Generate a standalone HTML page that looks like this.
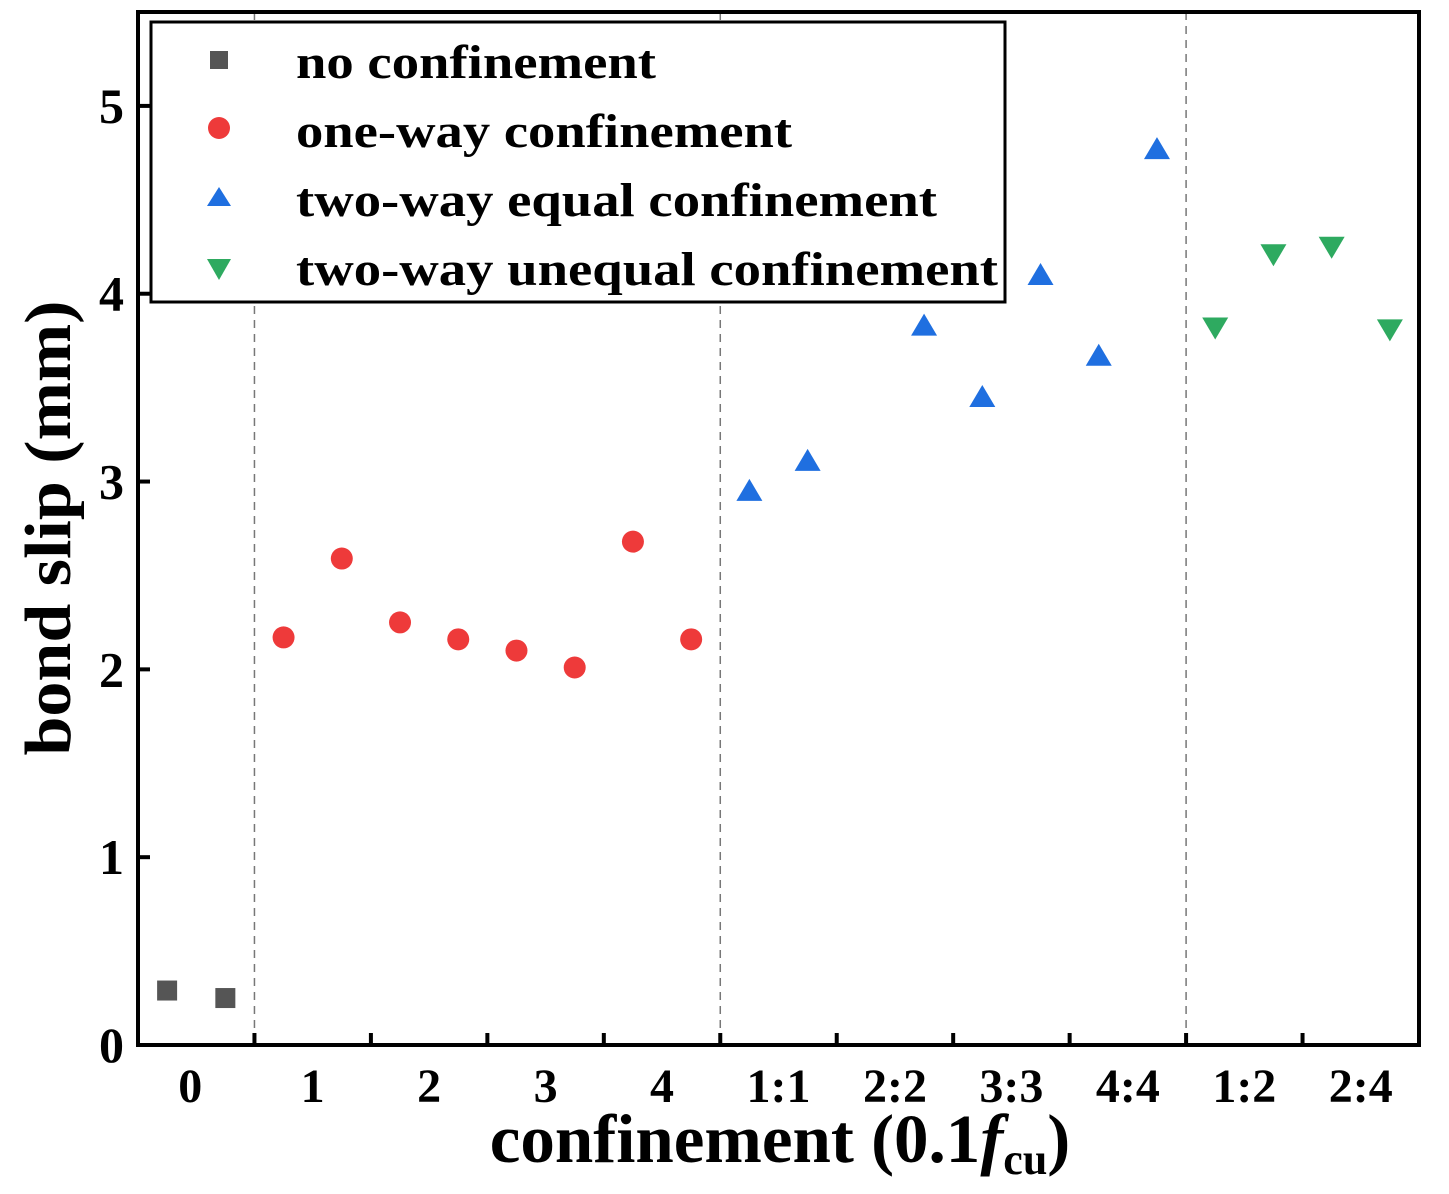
<!DOCTYPE html>
<html><head><meta charset="utf-8"><style>
html,body{margin:0;padding:0;background:#fff}
svg{display:block}
text{font-family:"Liberation Serif",serif;font-weight:bold;fill:#000}
</style></head><body>
<svg id="chart" width="1449" height="1194" viewBox="0 0 1449 1194" xmlns="http://www.w3.org/2000/svg">
<g id="grid"></g>
<g id="marks"></g>
<g id="axes"></g>
<g id="legend">
<rect x="151" y="22" width="854" height="280" fill="#fff" stroke="#000" stroke-width="3"/>
<rect x="210" y="51" width="18" height="18" fill="#555"/>
<text x="296" y="78" font-size="48" textLength="360" lengthAdjust="spacingAndGlyphs">no confinement</text>
<circle cx="219" cy="128" r="11" fill="#ee3a3a"/>
<text x="296" y="147" font-size="48" textLength="496" lengthAdjust="spacingAndGlyphs">one-way confinement</text>
<polygon points="219,187 207,206 231,206" fill="#1f6fe0"/>
<text x="296" y="216" font-size="48" textLength="641" lengthAdjust="spacingAndGlyphs">two-way equal confinement</text>
<polygon points="207,259 231,259 219,280" fill="#2eaa60"/>
<text x="296" y="285" font-size="48" textLength="702" lengthAdjust="spacingAndGlyphs">two-way unequal confinement</text>
</g>
<text transform="translate(70,528) rotate(-90)" text-anchor="middle" font-size="66" textLength="455" lengthAdjust="spacingAndGlyphs">bond slip (mm)</text>
<text x="780" y="1162" text-anchor="middle" font-size="69">confinement (0.1<tspan font-style="italic">f</tspan><tspan font-size="44" dy="12">cu</tspan><tspan dy="-12">)</tspan></text>
</svg>
<script>
const groupLabels = ["0","1","2","3","4","1:1","2:2","3:3","4:4","1:2","2:4"];
const yTicks = [0,1,2,3,4,5];
const noSlot = [0,1];
const noVals = [0.29,0.25];
const oneSlot = [2,3,4,5,6,7,8,9];
const oneVals = [2.17,2.59,2.25,2.16,2.10,2.01,2.68,2.16];
const eqSlot = [10,11,13,14,15,16,17];
const eqVals = [2.95,3.11,3.83,3.45,4.10,3.67,4.77];
const uneqSlot = [18,19,20,21];
const uneqVals = [3.82,4.21,4.25,3.81];
const dividers = [2,10,18];

const L=138,R=1419,T=12,B=1045,nSlots=22,yMax=5.5;
const xs=s=>L+(s+0.5)*(R-L)/nSlots;
const xb=s=>L+s*(R-L)/nSlots;
const ys=v=>B-v/yMax*(B-T);
const NS="http://www.w3.org/2000/svg";
function mk(tag,attrs,parent){const e=document.createElementNS(NS,tag);for(const k in attrs)e.setAttribute(k,attrs[k]);parent.appendChild(e);return e;}
const grid=document.getElementById('grid'),marks=document.getElementById('marks'),axes=document.getElementById('axes');

dividers.forEach(d=>{
  const l=mk('line',{x1:xb(d),x2:xb(d),y1:T,y2:B,stroke:'#777','stroke-width':1.5,'stroke-dasharray':'8,6'},grid);
  
  
});

noSlot.forEach((s,i)=>{
  const r=mk('rect',{x:xs(s)-10,y:ys(noVals[i])-10,width:20,height:20,fill:'#555'},marks);
  
  
});
oneSlot.forEach((s,i)=>{
  const c=mk('circle',{cx:xs(s),cy:ys(oneVals[i]),r:11,fill:'#ee3a3a'},marks);
  
  
});
eqSlot.forEach((s,i)=>{
  const x=xs(s),y=ys(eqVals[i]);
  const p=mk('polygon',{points:`${x},${y-12} ${x-13},${y+10} ${x+13},${y+10}`,fill:'#1f6fe0'},marks);
  
  
});
uneqSlot.forEach((s,i)=>{
  const x=xs(s),y=ys(uneqVals[i]);
  const p=mk('polygon',{points:`${x-13},${y-10} ${x+13},${y-10} ${x},${y+12}`,fill:'#2eaa60'},marks);
  
  
});

const frame=mk('rect',{x:L,y:T,width:R-L,height:B-T,fill:'none',stroke:'#000','stroke-width':4},axes);


yTicks.forEach(v=>{
  const t=mk('line',{x1:L,x2:L+12,y1:ys(v),y2:ys(v),stroke:'#000','stroke-width':4},axes);
  
  
  const lb=mk('text',{x:L-14,y:ys(v)+17,'text-anchor':'end','font-size':50},axes);
  lb.textContent=v;
  
  
});
groupLabels.forEach((g,i)=>{
  if(i>0){
    const t=mk('line',{x1:xb(2*i),x2:xb(2*i),y1:B,y2:B-12,stroke:'#000','stroke-width':4},axes);
    
    
  }
  const lb=mk('text',{x:xb(2*i+1)-(i===0?6:0),y:1102,'text-anchor':'middle','font-size':48},axes);
  lb.textContent=g;
  
  
});
</script>
</body></html>
